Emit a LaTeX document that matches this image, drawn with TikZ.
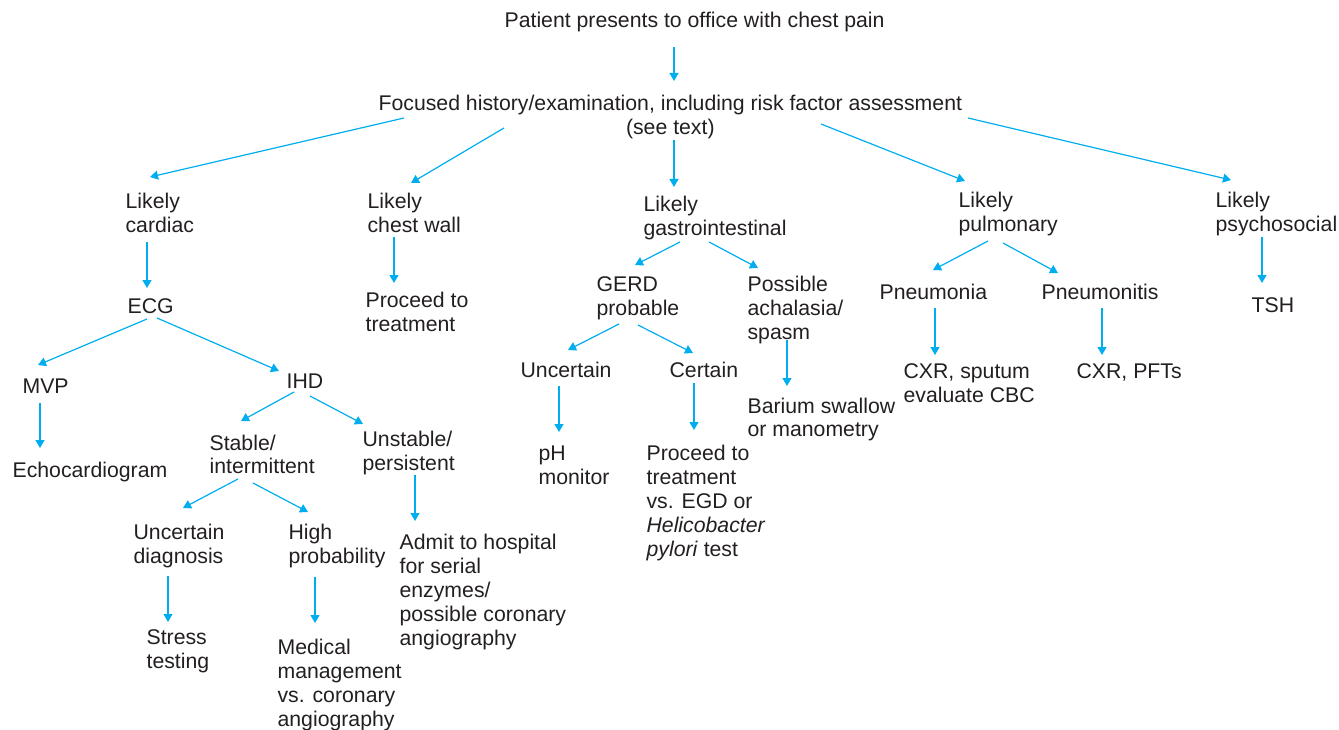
\documentclass[tikz,border=0pt]{standalone}
\usepackage{fontspec}
\setmainfont{Liberation Sans}
\usetikzlibrary{arrows.meta}

\definecolor{flowblue}{RGB}{0,174,239}
\definecolor{flowtext}{RGB}{35,31,32}

\tikzset{every picture/.style={line width=1.2pt}}
\tikzset{
  lbl/.style={anchor=north west, inner sep=0pt, align=left, text=flowtext,
    font=\fontsize{21.25}{24}\selectfont},
  arr/.style={draw=flowblue, -{Triangle[length=8pt,width=9pt]}}
}

\begin{document}
\begin{tikzpicture}[x=1pt,y=-1pt]
%set diagram left start at 0, and has height of 730
\useasboundingbox (0,0) rectangle (1339,730);

% Text Node
\node [lbl] (patient) at (504,12) {Patient presents to office with chest pain};
% Text Node
\node [lbl, align=center] (focus) at (378,95) {Focused history/examination, including risk factor assessment\\(see text)};
% Text Node
\node [lbl] (cardiac) at (125,193) {Likely\\cardiac};
% Text Node
\node [lbl] (chestwall) at (367,193) {Likely\\chest wall};
% Text Node
\node [lbl] (gastro) at (643,196) {Likely\\gastrointestinal};
% Text Node
\node [lbl] (pulm) at (958,192) {Likely\\pulmonary};
% Text Node
\node [lbl] (psych) at (1215,192) {Likely\\psychosocial};
% Text Node
\node [lbl] (ecg) at (127,298) {ECG};
% Text Node
\node [lbl] (treatcw) at (365,292) {Proceed to\\treatment};
% Text Node
\node [lbl] (gerd) at (596,276) {GERD\\probable};
% Text Node
\node [lbl] (achal) at (747,276) {Possible\\achalasia/\\spasm};
% Text Node
\node [lbl] (pneumonia) at (879,284) {Pneumonia};
% Text Node
\node [lbl] (pneumonitis) at (1041,284) {Pneumonitis};
% Text Node
\node [lbl] (tsh) at (1251,297) {TSH};
% Text Node
\node [lbl] (mvp) at (22,378) {MVP};
% Text Node
\node [lbl] (ihd) at (286,373) {IHD};
% Text Node
\node [lbl] (uncertgi) at (520,362) {Uncertain};
% Text Node
\node [lbl] (certgi) at (669,362) {Certain};
% Text Node
\node [lbl] (cxrsput) at (903,363) {CXR, sputum\\evaluate CBC};
% Text Node
\node [lbl] (cxrpft) at (1076,363) {CXR, PFTs};
% Text Node
\node [lbl] (barium) at (747,397) {Barium swallow\\or manometry};
% Text Node
\node [lbl] (echo) at (12,462) {Echocardiogram};
% Text Node
\node [lbl] (stable) at (209,434) {Stable/\\intermittent};
% Text Node
\node [lbl] (unstable) at (362,430) {Unstable/\\persistent};
% Text Node
\node [lbl] (phmon) at (538,445) {pH\\monitor};
% Text Node
\node [lbl] (treatgi) at (646,444) {Proceed to\\treatment\\vs. EGD or\\\textit{Helicobacter}\\\textit{pylori} test};
% Text Node
\node [lbl] (uncertdx) at (133,523) {Uncertain\\diagnosis};
% Text Node
\node [lbl] (highprob) at (288,523) {High\\probability};
% Text Node
\node [lbl] (admit) at (399,533) {Admit to hospital\\for serial\\enzymes/\\possible coronary\\angiography};
% Text Node
\node [lbl] (stress) at (146,629) {Stress\\testing};
% Text Node
\node [lbl] (medical) at (277,638) {Medical\\management\\vs. coronary\\angiography};

%Straight Lines
\draw [arr] ([shift={(170,35)}]patient.north west) -- ([shift={(296,-14)}]focus.north west);
%Straight Lines
\draw [arr] ([shift={(26,23)}]focus.north west) -- ([shift={(25,-16)}]cardiac.north west);
\draw [arr] ([shift={(126,33)}]focus.north west) -- ([shift={(44,-10)}]chestwall.north west);
\draw [arr] ([shift={(296,45)}]focus.north west) -- ([shift={(31,-9)}]gastro.north west);
\draw [arr] ([shift={(443,29)}]focus.north west) -- ([shift={(7,-11)}]pulm.north west);
\draw [arr] ([shift={(590,23)}]focus.north west) -- ([shift={(16,-12)}]psych.north west);
%Straight Lines
\draw [arr] ([shift={(22,49)}]cardiac.north west) -- ([shift={(20,-10)}]ecg.north west);
\draw [arr] ([shift={(27,44)}]chestwall.north west) -- ([shift={(29,-9)}]treatcw.north west);
\draw [arr] ([shift={(37,46)}]gastro.north west) -- ([shift={(39,-11)}]gerd.north west);
\draw [arr] ([shift={(66,46)}]gastro.north west) -- ([shift={(11,-8)}]achal.north west);
\draw [arr] ([shift={(30,49)}]pulm.north west) -- ([shift={(54,-14)}]pneumonia.north west);
\draw [arr] ([shift={(45,51)}]pulm.north west) -- ([shift={(17,-11)}]pneumonitis.north west);
\draw [arr] ([shift={(47,45)}]psych.north west) -- ([shift={(11,-14)}]tsh.north west);
%Straight Lines
\draw [arr] ([shift={(20,21)}]ecg.north west) -- ([shift={(16,-13)}]mvp.north west);
\draw [arr] ([shift={(30,20)}]ecg.north west) -- ([shift={(-7,-2)}]ihd.north west);
\draw [arr] ([shift={(23,48)}]gerd.north west) -- ([shift={(48,-12)}]uncertgi.north west);
\draw [arr] ([shift={(42,49)}]gerd.north west) -- ([shift={(24,-9)}]certgi.north west);
\draw [arr] ([shift={(40,64)}]achal.north west) -- ([shift={(40,-11)}]barium.north west);
\draw [arr] ([shift={(56,24)}]pneumonia.north west) -- ([shift={(32,-8)}]cxrsput.north west);
\draw [arr] ([shift={(61,24)}]pneumonitis.north west) -- ([shift={(26,-8)}]cxrpft.north west);
%Straight Lines
\draw [arr] ([shift={(18,25)}]mvp.north west) -- ([shift={(28,-14)}]echo.north west);
\draw [arr] ([shift={(8,19)}]ihd.north west) -- ([shift={(32,-13)}]stable.north west);
\draw [arr] ([shift={(24,23)}]ihd.north west) -- ([shift={(1,-6)}]unstable.north west);
\draw [arr] ([shift={(39,24)}]uncertgi.north west) -- ([shift={(21,-13)}]phmon.north west);
\draw [arr] ([shift={(25,21)}]certgi.north west) -- ([shift={(48,-14)}]treatgi.north west);
%Straight Lines
\draw [arr] ([shift={(29,45)}]stable.north west) -- ([shift={(50,-15)}]uncertdx.north west);
\draw [arr] ([shift={(44,49)}]stable.north west) -- ([shift={(20,-11)}]highprob.north west);
\draw [arr] ([shift={(53,45)}]unstable.north west) -- ([shift={(16,-12)}]admit.north west);
\draw [arr] ([shift={(35,53)}]uncertdx.north west) -- ([shift={(22,-7)}]stress.north west);
\draw [arr] ([shift={(27,54)}]highprob.north west) -- ([shift={(38,-15)}]medical.north west);

\end{tikzpicture}
\end{document}
